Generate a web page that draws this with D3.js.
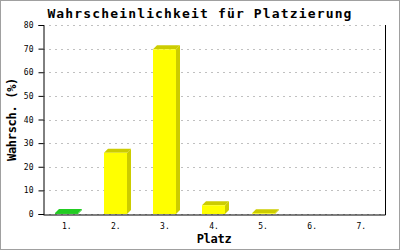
<!DOCTYPE html>
<html><head><meta charset="utf-8">
<script src="https://cdn.jsdelivr.net/npm/d3@7"></script>
<style>html,body{margin:0;padding:0;background:#fff;}svg{display:block;}</style>
</head><body>
<script>
const categories = ["1.", "2.", "3.", "4.", "5.", "6.", "7."];
const values = [0.4, 25.9, 69.7, 3.7, 0.3, 0, 0];
const barColors = ["#22cc22", "#ffff00", "#ffff00", "#ffff00", "#ffff00", "#ffff00", "#ffff00"];
const shadeColors = ["#22cc22", "#cccc00", "#cccc00", "#cccc00", "#cccc00", "#cccc00", "#cccc00"];
const yTicks = [0, 10, 20, 30, 40, 50, 60, 70, 80];
const title = "Wahrscheinlichkeit für Platzierung";
const xTitle = "Platz";
const yTitle = "Wahrsch. (%)";

const W = 400, H = 250;
const m = {left: 43, right: 15, top: 25, bottom: 36};
const svg = d3.select("body").append("svg").attr("width", W).attr("height", H);
svg.append("rect").attr("x", 0.5).attr("y", 0.5).attr("width", W - 1).attr("height", H - 1)
  .attr("fill", "#fff").attr("stroke", "#a0a0a0");

const x = d3.scaleBand().domain(categories).range([m.left, W - m.right]).paddingInner(0.53).paddingOuter(0.25);
const y = d3.scaleLinear().domain([0, 80]).range([H - m.bottom, m.top]);

const mono = "'DejaVu Sans Mono', 'Liberation Mono', monospace";

// grid
svg.append("g").selectAll("line").data(yTicks).join("line")
  .attr("x1", m.left).attr("x2", W - m.right)
  .attr("y1", d => Math.round(y(d)) + 0.5).attr("y2", d => Math.round(y(d)) + 0.5)
  .attr("stroke", "#c0c0c0").attr("stroke-dasharray", "2,4");

// bars (3D)
const dx = 4, dy = 4;
const bars = svg.append("g");
categories.forEach((c, i) => {
  const v = values[i];
  if (v <= 0) return;
  const x0 = Math.round(x(c)), w = Math.round(x.bandwidth());
  const y0 = y(v), yb = y(0);
  bars.append("polygon").attr("points", [[x0 + w, y0], [x0 + w + dx, y0 - dy], [x0 + w + dx, yb - dy], [x0 + w, yb]].join(" "))
    .attr("fill", shadeColors[i]);
  bars.append("polygon").attr("points", [[x0, y0], [x0 + dx, y0 - dy], [x0 + w + dx, y0 - dy], [x0 + w, y0]].join(" "))
    .attr("fill", shadeColors[i]);
  bars.append("rect").attr("x", x0).attr("y", y0).attr("width", w).attr("height", yb - y0)
    .attr("fill", barColors[i]);
});

// axes
const yAxis = d3.axisLeft(y).tickValues(yTicks).tickSize(5).tickPadding(5);
const gy = svg.append("g").attr("transform", `translate(${m.left + 0.5},0)`).call(yAxis);
gy.select(".domain").attr("stroke", "#000");
gy.selectAll(".tick line").attr("stroke", "#000");
gy.selectAll("text").attr("font-family", mono).attr("font-size", 8).attr("fill", "#000");

const xAxis = d3.axisBottom(x).tickSize(0).tickPadding(9);
const gx = svg.append("g").attr("transform", `translate(0,${H - m.bottom + 0.5})`).call(xAxis);
gx.select(".domain").attr("stroke", "#000");
gx.selectAll("text").attr("font-family", mono).attr("font-size", 8).attr("fill", "#000");

// right line
svg.append("line").attr("x1", W - m.right + 0.5).attr("x2", W - m.right + 0.5)
  .attr("y1", m.top).attr("y2", H - m.bottom + 1).attr("stroke", "#000");

// titles
svg.append("text").attr("x", 200).attr("y", 18).attr("text-anchor", "middle")
  .attr("font-family", mono).attr("font-weight", "bold").attr("font-size", 13)
  .attr("letter-spacing", 1.15).text(title);
svg.append("text").attr("x", (m.left + W - m.right) / 2).attr("y", 243).attr("text-anchor", "middle")
  .attr("font-family", mono).attr("font-weight", "bold").attr("font-size", 12)
  .attr("letter-spacing", -0.3).text(xTitle);
svg.append("text").attr("transform", `translate(16,${(m.top + H - m.bottom) / 2}) rotate(-90)`)
  .attr("text-anchor", "middle")
  .attr("font-family", mono).attr("font-weight", "bold").attr("font-size", 12)
  .attr("letter-spacing", -0.3).text(yTitle);
</script>
</body></html>
